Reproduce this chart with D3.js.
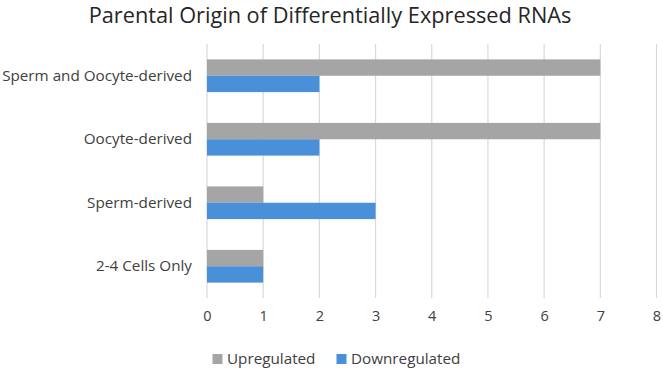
<!DOCTYPE html>
<html><head><meta charset="utf-8">
<script src="https://cdn.jsdelivr.net/npm/d3@7"></script>
<style>body{margin:0;background:#fff}svg{display:block}</style>
</head><body>
<svg id="c" width="663" height="369"></svg>
<script>
const categories = ["Sperm and Oocyte-derived", "Oocyte-derived", "Sperm-derived", "2-4 Cells Only"];
const seriesNames = ["Upregulated", "Downregulated"];
const upregulated = [7, 7, 1, 1];
const downregulated = [2, 2, 3, 1];
const xTicks = [0, 1, 2, 3, 4, 5, 6, 7, 8];
const title = "Parental Origin of Differentially Expressed RNAs";
const colors = ["#A5A5A5", "#4A90D9"];

const FONT = "'Open Sans', sans-serif";
const svg = d3.select("#c");
const m = {left: 207, right: 6.5, top: 44, bottom: 71};
const W = 663, H = 369;

const x = d3.scaleLinear().domain([0, 8]).range([m.left, W - m.right]);
const y0 = d3.scaleBand().domain(categories).range([m.top, H - m.bottom]).paddingInner(0.485).paddingOuter(0.2425);
const y1 = d3.scaleBand().domain(seriesNames).range([0, y0.bandwidth()]);

function fit(sel, target) {
  const w = sel.node().getComputedTextLength();
  const fs = parseFloat(sel.attr("font-size"));
  sel.attr("font-size", fs * target / w);
}

// gridlines
svg.append("g").selectAll("line").data(xTicks).join("line")
  .attr("x1", d => x(d)).attr("x2", d => x(d))
  .attr("y1", m.top).attr("y2", H - m.bottom)
  .attr("stroke", "#D9D9D9").attr("stroke-width", 1.2);

// bars
const data = categories.map((c, i) => ({c, vals: [upregulated[i], downregulated[i]]}));
const g = svg.append("g").selectAll("g").data(data).join("g")
  .attr("transform", d => `translate(0,${y0(d.c)})`);
g.selectAll("rect").data(d => d.vals.map((v, j) => ({v, s: seriesNames[j], j}))).join("rect")
  .attr("x", x(0)).attr("y", d => y1(d.s))
  .attr("width", d => x(d.v) - x(0)).attr("height", y1.bandwidth())
  .attr("fill", d => colors[d.j]);

// x axis labels
const xa = d3.axisBottom(x).tickValues(xTicks).tickSize(0).tickPadding(0).tickFormat(d3.format("d"));
const xg = svg.append("g").attr("transform", `translate(0,${H - m.bottom})`).call(xa);
xg.select(".domain").remove();
xg.selectAll("text").attr("font-family", FONT).attr("font-size", 14.5).attr("fill", "#404040")
  .attr("dy", null).attr("y", 23);

// y axis labels
const ya = d3.axisLeft(y0).tickSize(0).tickPadding(15);
const yg = svg.append("g").attr("transform", `translate(${m.left},0)`).call(ya);
yg.select(".domain").remove();
yg.selectAll("text").attr("font-family", FONT).attr("font-size", 14).attr("fill", "#404040");
fit(yg.selectAll("text").filter(d => d === categories[0]), 190);
const yfs = yg.selectAll("text").filter(d => d === categories[0]).attr("font-size");
yg.selectAll("text").attr("font-size", yfs);

// title
const t = svg.append("text").attr("x", 330).attr("y", 23).attr("text-anchor", "middle")
  .attr("font-family", FONT).attr("font-size", 20).attr("fill", "#262626").text(title);
fit(t, 483);

// legend
const legX = [212.5, 336.5];
const lg = svg.append("g").selectAll("g").data(seriesNames).join("g")
  .attr("transform", (d, i) => `translate(${legX[i]},354)`);
lg.append("rect").attr("width", 10).attr("height", 10).attr("fill", (d, i) => colors[i]);
lg.append("text").attr("x", 14.5).attr("y", 5).attr("dy", "0.35em")
  .attr("font-family", FONT).attr("font-size", yfs).attr("fill", "#404040").text(d => d);
</script>
</body></html>
